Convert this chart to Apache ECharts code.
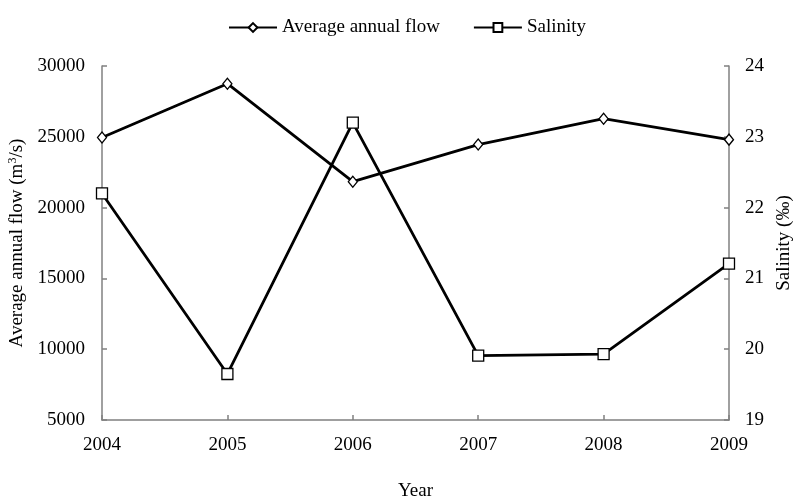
<!DOCTYPE html>
<html>
<head>
<meta charset="utf-8">
<script src="https://cdn.jsdelivr.net/npm/echarts@6/dist/echarts.min.js"></script>
<style>html,body{margin:0;padding:0;background:#fff}#c{width:793px;height:499px}</style>
</head>
<body>
<div id="c"></div>
<script>
var years = ['2004', '2005', '2006', '2007', '2008', '2009'];
var flow = [24950, 28750, 21830, 24450, 26280, 24800];
var salinity = [22.2, 19.65, 23.2, 19.91, 19.93, 21.21];

var FONT = 'Liberation Serif';
var chart = echarts.init(document.getElementById('c'), null, {renderer: 'canvas'});
var axisLine = {show: true, lineStyle: {color: '#808080', width: 1.5}};
var axisTick = {show: true, inside: true, length: 5, lineStyle: {color: '#808080', width: 1.5}};
var plain = function (v) { return String(v); };
chart.setOption({
  animation: false,
  backgroundColor: '#fff',
  textStyle: {fontFamily: FONT, color: '#000'},
  legend: {
    top: 13,
    left: 223,
    itemWidth: 48,
    itemHeight: 11,
    itemGap: 33,
    textStyle: {fontFamily: FONT, fontSize: 19, color: '#000'},
    data: ['Average annual flow', 'Salinity']
  },
  grid: {left: 102, right: 64, top: 66, bottom: 79, containLabel: false, outerBoundsMode: 'none'},
  xAxis: {
    type: 'category',
    data: years,
    boundaryGap: false,
    name: 'Year',
    nameLocation: 'middle',
    nameGap: 62,
    nameTextStyle: {fontFamily: FONT, fontSize: 19, color: '#000'},
    axisLine: axisLine,
    axisTick: Object.assign({}, axisTick, {alignWithLabel: true}),
    axisLabel: {fontFamily: FONT, fontSize: 19, color: '#000', margin: 16},
    splitLine: {show: false}
  },
  yAxis: [{
    type: 'value',
    min: 5000, max: 30000, interval: 5000,
    name: 'Average annual flow (m{sup|3}/s)',
    nameLocation: 'middle',
    nameRotate: 90,
    nameGap: 63,
    nameTextStyle: {fontFamily: FONT, fontSize: 19, color: '#000',
      rich: {sup: {fontFamily: FONT, fontSize: 12, verticalAlign: 'top', padding: [0, 0, 9, 0]}}},
    axisLine: axisLine,
    axisTick: axisTick,
    axisLabel: {fontFamily: FONT, fontSize: 19, color: '#000', margin: 17, formatter: plain},
    splitLine: {show: false}
  }, {
    type: 'value',
    min: 19, max: 24, interval: 1,
    position: 'right',
    name: 'Salinity (‰)',
    nameLocation: 'middle',
    nameRotate: 90,
    nameGap: 38,
    nameTextStyle: {fontFamily: FONT, fontSize: 19, color: '#000'},
    axisLine: axisLine,
    axisTick: axisTick,
    axisLabel: {fontFamily: FONT, fontSize: 19, color: '#000', margin: 16, formatter: plain},
    splitLine: {show: false}
  }],
  series: [{
    name: 'Average annual flow',
    type: 'line',
    yAxisIndex: 0,
    data: flow,
    symbol: 'diamond',
    symbolSize: [9, 11],
    showAllSymbol: true,
    lineStyle: {color: '#000', width: 2.8},
    itemStyle: {color: '#fff', borderColor: '#000', borderWidth: 1.3}
  }, {
    name: 'Salinity',
    type: 'line',
    yAxisIndex: 1,
    data: salinity,
    symbol: 'rect',
    symbolSize: 11,
    showAllSymbol: true,
    lineStyle: {color: '#000', width: 2.8},
    itemStyle: {color: '#fff', borderColor: '#000', borderWidth: 1.3}
  }]
});
</script>
</body>
</html>
